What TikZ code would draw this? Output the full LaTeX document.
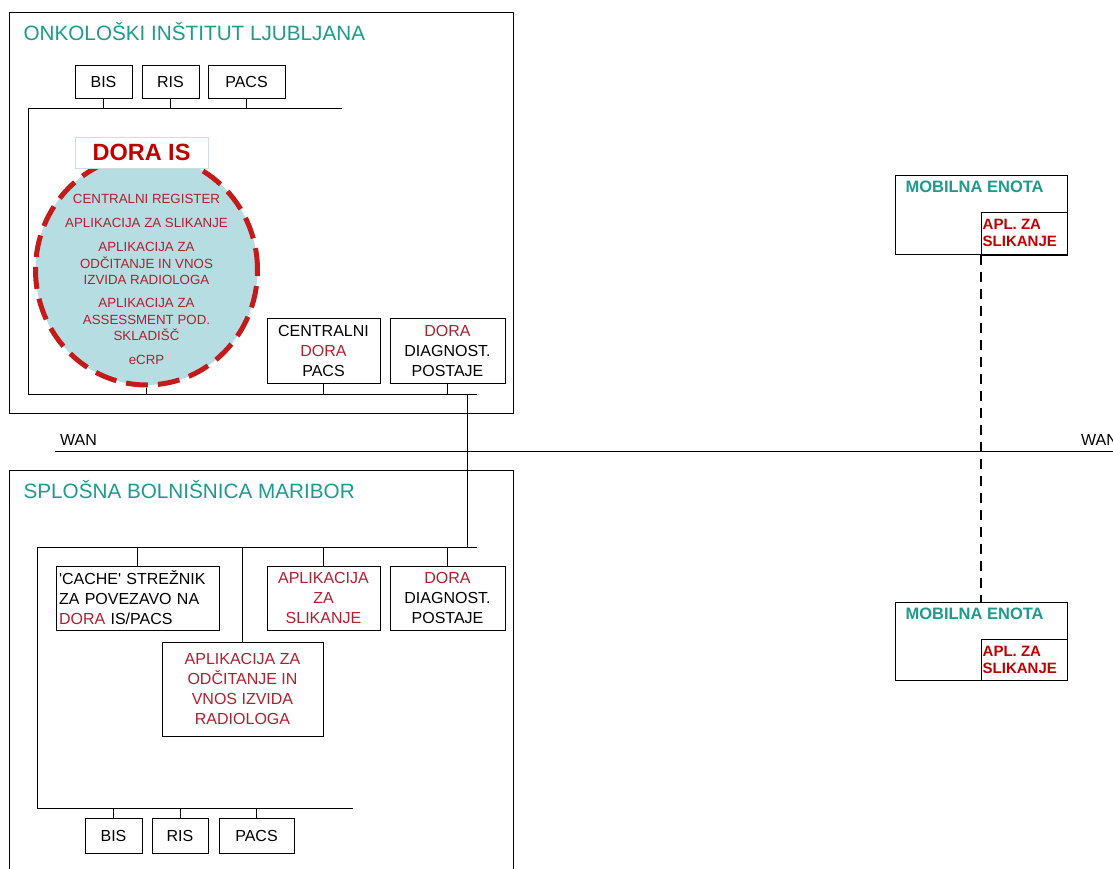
\documentclass[tikz,border=0pt]{standalone}
\usepackage{fontspec}
\setmainfont{Liberation Sans}
\usepackage{xcolor}
\usetikzlibrary{shapes.geometric}
\definecolor{tealtitle}{HTML}{1F9A8C}
\definecolor{dorared}{HTML}{B0202E}
\definecolor{boldred}{HTML}{C00000}
\definecolor{ovalfill}{HTML}{B5DDE2}
\definecolor{ovalline}{HTML}{C41A1A}
\definecolor{lightedge}{HTML}{C8E0E0}
\newcommand{\boxfont}{\fontsize{16}{20}\selectfont}
\newcommand{\ovalfont}{\fontsize{13.3}{16.5}\selectfont}
\newcommand{\titlefont}{\fontsize{20.7}{24}\selectfont}
\newcommand{\mobfont}{\fontsize{15}{17}\selectfont\bfseries}
\tikzset{every node/.append style={font=\rmfamily}}

\begin{document}
\begin{tikzpicture}[x=1pt, y=-1pt,
    sysbox/.style={draw, line width=1pt, fill=white, inner sep=0pt, align=center, font=\boxfont},
    bus/.style={line width=1pt},
    ovaltext/.style={align=center, font=\ovalfont, text=dorared},
    sitetitle/.style={anchor=west, font=\titlefont, text=tealtitle},
    mobbox/.style={draw, line width=1pt, inner sep=0pt, minimum width=172pt},
    aplbox/.style={draw, line width=1pt, inner sep=0pt, minimum width=86pt},
    mobtitle/.style={anchor=west, font=\fontsize{16.5}{19}\selectfont\bfseries, text=tealtitle},
    apltext/.style={anchor=west, align=left, font=\mobfont, text=boldred},
    wanlink/.style={line width=2pt, dash pattern=on 10pt off 7pt}]
    \useasboundingbox (0,0) rectangle (1113,868);
    \clip (0,0) rectangle (1113,868);
    \fill[white] (0,0) rectangle (1113,868);

    % Ljubljana site
    \draw[line width=1pt] (9,12) rectangle (513,413);
    \node[sitetitle] (titleLj) at (20,32) {ONKOLOŠKI INŠTITUT LJUBLJANA};

    \node[sysbox, minimum width=57pt, minimum height=33pt] (bisT) at (103.5,81.5) {BIS};
    \node[sysbox, minimum width=57pt, minimum height=33pt] (risT) at (170.5,81.5) {RIS};
    \node[sysbox, minimum width=77pt, minimum height=33pt] (pacsT) at (246.5,81.5) {PACS};

    \coordinate (busTa) at (28,108);
    \coordinate (busTb) at (342,108);
    \coordinate (busTc) at (28,394);
    \coordinate (busTd) at (477,394);
    \draw[bus] (busTb) -- (busTa) -- (busTc) -- (busTd);
    \foreach \n in {bisT, risT, pacsT}
        \draw[bus] (\n.south) -- (\n.south |- busTa);

    % DORA IS oval
    \node[ellipse, draw=ovalline, fill=ovalfill, line width=5pt, dash pattern=on 22pt off 10pt,
        minimum width=222pt, minimum height=230pt, inner sep=0pt] (oval) at (146.5,270) {};
    \node[draw=lightedge, fill=white, line width=0.8pt, minimum width=133pt, minimum height=31pt,
        inner sep=0pt, font=\fontsize{23.5}{26}\selectfont\bfseries, text=boldred] (doraIS) at (141.5,152.5) {DORA IS};
    \node[ovaltext] (regT) at (146.5,199) {CENTRALNI REGISTER};
    \node[ovaltext] (slikT) at (146.5,223) {APLIKACIJA ZA SLIKANJE};
    \node[ovaltext] (odcT) at (146.5,263.5) {APLIKACIJA ZA\\ODČITANJE IN VNOS\\IZVIDA RADIOLOGA};
    \node[ovaltext] (assT) at (146.5,319.5) {APLIKACIJA ZA\\ASSESSMENT POD.\\SKLADIŠČ};
    \node[ovaltext] (ecrpT) at (146.5,360) {eCRP};
    \draw[bus] (oval.south) -- (oval.south |- busTc);

    \node[sysbox, minimum width=113pt, minimum height=65pt] (pacsC) at (323.5,350.5)
        {CENTRALNI\\{\color{dorared}DORA}\\PACS};
    \node[sysbox, minimum width=115pt, minimum height=65pt] (diagT) at (447.5,350.5)
        {{\color{dorared}DORA}\\DIAGNOST.\\POSTAJE};
    \foreach \n in {pacsC, diagT}
        \draw[bus] (\n.south) -- (\n.south |- busTc);

    % WAN
    \coordinate (wanA) at (55,451);
    \coordinate (wanB) at (1120,451);
    \draw[bus] (wanA) -- (wanB);
    \node[anchor=west, font=\fontsize{16}{18}\selectfont, inner sep=0pt] (wanL) at (60,440) {WAN};
    \node[anchor=west, font=\fontsize{16}{18}\selectfont, inner sep=0pt] (wanR) at (1081,440) {WAN};

    % Maribor site
    \draw[line width=1pt] (9,880) -- (9,470) -- (513,470) -- (513,880);
    \node[sitetitle] (titleMb) at (20,490) {SPLOŠNA BOLNIŠNICA MARIBOR};

    \coordinate (busBa) at (37,547);
    \coordinate (busBb) at (477,547);
    \coordinate (busBc) at (37,808);
    \coordinate (busBd) at (353,808);
    \draw[bus] (busBb) -- (busBa) -- (busBc) -- (busBd);
    \draw[bus] (busTd -| 467,0) -- (busBb -| 467,0);

    \node[sysbox, align=left, minimum width=163pt, minimum height=64pt, text width=157pt] (cacheB) at (137.5,598)
        {\textquotesingle CACHE\textquotesingle\ STREŽNIK\\ZA POVEZAVO NA\\{\color{dorared}DORA} IS/PACS};
    \node[sysbox, minimum width=113pt, minimum height=64pt, text=dorared] (slikB) at (323.5,598)
        {APLIKACIJA\\ZA\\SLIKANJE};
    \node[sysbox, minimum width=115pt, minimum height=64pt] (diagB) at (447.5,598)
        {{\color{dorared}DORA}\\DIAGNOST.\\POSTAJE};
    \node[sysbox, minimum width=161pt, minimum height=94pt, text=dorared] (odcB) at (242.5,689)
        {APLIKACIJA ZA\\ODČITANJE IN\\VNOS IZVIDA\\RADIOLOGA};
    \foreach \n in {cacheB, slikB, diagB, odcB}
        \draw[bus] (\n.north) -- (\n.north |- busBa);

    \node[sysbox, minimum width=57pt, minimum height=35pt] (bisB) at (113.5,835.5) {BIS};
    \node[sysbox, minimum width=56pt, minimum height=35pt] (risB) at (180,835.5) {RIS};
    \node[sysbox, minimum width=75pt, minimum height=35pt] (pacsB) at (256.5,835.5) {PACS};
    \foreach \n in {bisB, risB, pacsB}
        \draw[bus] (\n.north) -- (\n.north |- busBc);

    % Mobile units
    \node[mobbox, minimum height=79pt] (mobT) at (981,214.5) {};
    \node[aplbox, minimum height=42pt] (aplT) at (1024,233) {};
    \draw[line width=2pt] (aplT.south west) -- (aplT.south east);
    \node[mobtitle] (mobTitleT) at (902,187) {MOBILNA ENOTA};
    \node[apltext, inner sep=2pt] (aplTextT) at (aplT.west) {APL. ZA\\SLIKANJE};

    \node[mobbox, minimum height=78pt] (mobB) at (981,641) {};
    \node[aplbox, minimum height=41pt] (aplB) at (1024,659.5) {};
    \node[mobtitle] (mobTitleB) at (902,614) {MOBILNA ENOTA};
    \node[apltext, inner sep=2pt] (aplTextB) at (aplB.west) {APL. ZA\\SLIKANJE};

    \draw[wanlink] (mobT.south) -- (mobB.north);
\end{tikzpicture}
\end{document}
